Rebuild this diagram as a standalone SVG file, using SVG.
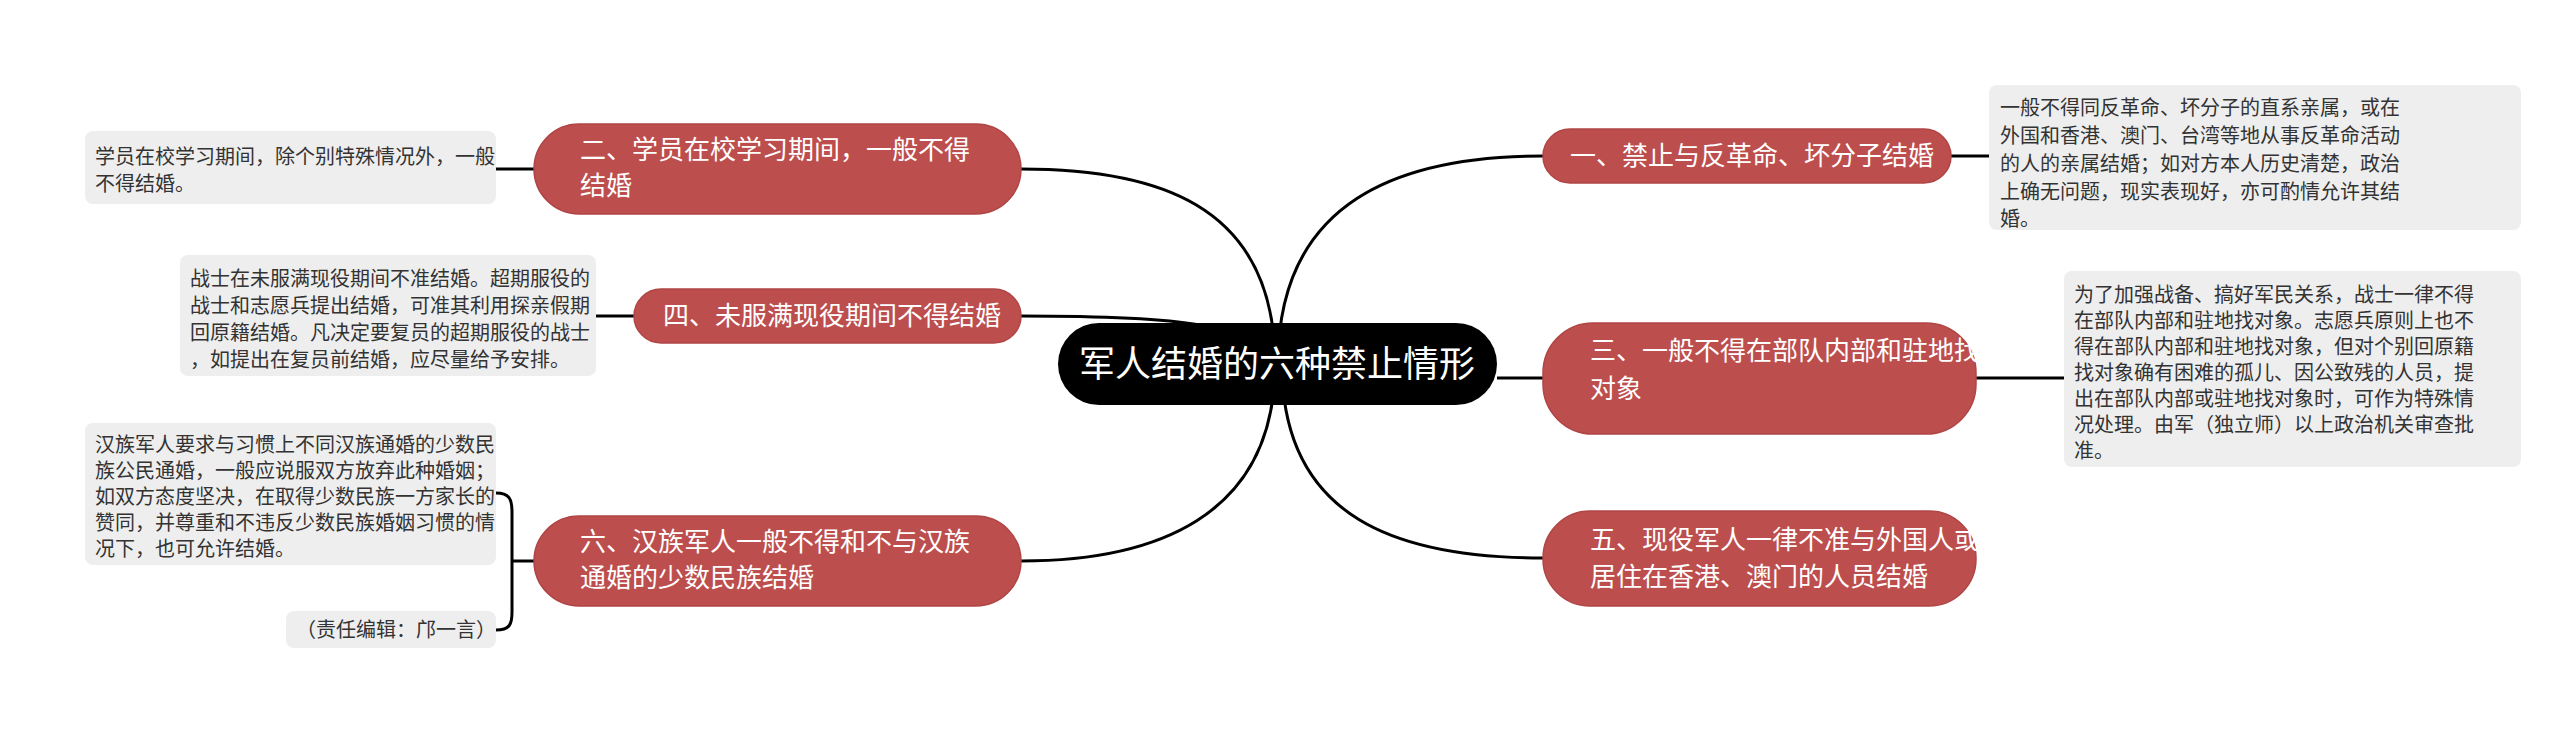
<svg xmlns="http://www.w3.org/2000/svg" width="2560" height="737" viewBox="0 0 2560 737">
<style>
text{font-family:"Noto Sans CJK SC","Noto Sans",sans-serif}
.n rect{fill:#bd4e4e;stroke:#b04545;stroke-width:1.5}
.n text{fill:#fff;font-size:26px}
.t rect{fill:#eeeeee}
.t text{fill:#333;font-size:20px}
.c path{fill:none;stroke:#000;stroke-width:3}
</style>
<rect width="2560" height="737" fill="#fff"/>
<g class="c">
<path d="M1278,364 C1278,200 1400,156 1543,156"/>
<path d="M1497,378 L1543,378"/>
<path d="M1282,364 C1282,520 1400,558 1543,558"/>
<path d="M1275,364 C1275,200 1150,169 1021,169"/>
<path d="M1021,316 C1100,316 1160,318 1200,325"/>
<path d="M1275,364 C1275,520 1150,561 1021,561"/>
<path d="M1951,156 L1989,156"/>
<path d="M1976,378 L2064,378"/>
<path d="M534,169 L496,169"/>
<path d="M634,316 L596,316"/>
<path d="M534,561 L512,561"/>
<path d="M496,493 C510,493 512,500 512,512 L512,612 C512,624 510,630 496,630"/>
</g>
<g id="root"><rect x="1058" y="323" width="439" height="82" rx="41" fill="#000"/><text x="1277" y="377" text-anchor="middle" fill="#fff" font-size="36">军人结婚的六种禁止情形</text></g>
<g id="n1" class="n"><rect x="1543" y="129" width="408" height="54" rx="27"/><text x="1570" y="165">一、禁止与反革命、坏分子结婚</text></g>
<g id="n3" class="n"><rect x="1543" y="323" width="433" height="111" rx="50"/><text x="1590" y="360">三、一般不得在部队内部和驻地找</text><text x="1590" y="398">对象</text></g>
<g id="n5" class="n"><rect x="1543" y="511" width="433" height="95" rx="47"/><text x="1590" y="549">五、现役军人一律不准与外国人或</text><text x="1590" y="586">居住在香港、澳门的人员结婚</text></g>
<g id="n2" class="n"><rect x="534" y="124" width="487" height="90" rx="45"/><text x="580" y="159">二、学员在校学习期间，一般不得</text><text x="580" y="195">结婚</text></g>
<g id="n4" class="n"><rect x="634" y="289" width="387" height="54" rx="27"/><text x="663" y="325">四、未服满现役期间不得结婚</text></g>
<g id="n6" class="n"><rect x="534" y="516" width="487" height="90" rx="45"/><text x="580" y="551">六、汉族军人一般不得和不与汉族</text><text x="580" y="587">通婚的少数民族结婚</text></g>
<g id="t1" class="t"><rect x="1989" y="85" width="532" height="145" rx="8"/>
<text x="2000" y="115">一般不得同反革命、坏分子的直系亲属，或在</text><text x="2000" y="143">外国和香港、澳门、台湾等地从事反革命活动</text><text x="2000" y="171">的人的亲属结婚；如对方本人历史清楚，政治</text><text x="2000" y="199">上确无问题，现实表现好，亦可酌情允许其结</text><text x="2000" y="226">婚。</text></g>
<g id="t3" class="t"><rect x="2064" y="271" width="457" height="196" rx="8"/>
<text x="2074" y="302">为了加强战备、搞好军民关系，战士一律不得</text><text x="2074" y="328">在部队内部和驻地找对象。志愿兵原则上也不</text><text x="2074" y="354">得在部队内部和驻地找对象，但对个别回原籍</text><text x="2074" y="380">找对象确有困难的孤儿、因公致残的人员，提</text><text x="2074" y="406">出在部队内部或驻地找对象时，可作为特殊情</text><text x="2074" y="432">况处理。由军（独立师）以上政治机关审查批</text><text x="2074" y="458">准。</text></g>
<g id="t2" class="t"><rect x="85" y="131" width="411" height="73" rx="8"/>
<text x="95" y="164">学员在校学习期间，除个别特殊情况外，一般</text><text x="95" y="191">不得结婚。</text></g>
<g id="t4" class="t"><rect x="180" y="255" width="416" height="121" rx="8"/>
<text x="190" y="286">战士在未服满现役期间不准结婚。超期服役的</text><text x="190" y="313">战士和志愿兵提出结婚，可准其利用探亲假期</text><text x="190" y="340">回原籍结婚。凡决定要复员的超期服役的战士</text><text x="190" y="367">，如提出在复员前结婚，应尽量给予安排。</text></g>
<g id="t6" class="t"><rect x="85" y="423" width="411" height="142" rx="8"/>
<text x="95" y="452">汉族军人要求与习惯上不同汉族通婚的少数民</text><text x="95" y="478">族公民通婚，一般应说服双方放弃此种婚姻；</text><text x="95" y="504">如双方态度坚决，在取得少数民族一方家长的</text><text x="95" y="530">赞同，并尊重和不违反少数民族婚姻习惯的情</text><text x="95" y="556">况下，也可允许结婚。</text></g>
<g id="t7" class="t"><rect x="286" y="611" width="210" height="37" rx="8"/><text x="296" y="637">（责任编辑：邝一言）</text></g>
</svg>
